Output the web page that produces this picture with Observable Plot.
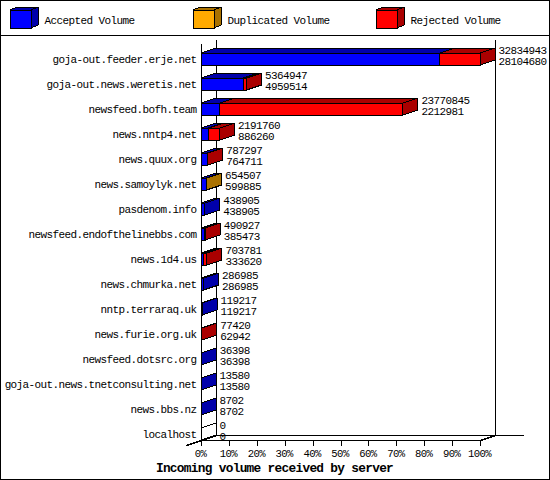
<!DOCTYPE html>
<html>
<head>
<meta charset="utf-8">
<script src="https://cdn.jsdelivr.net/npm/d3@7"></script>
<script src="https://cdn.jsdelivr.net/npm/@observablehq/plot@0.6"></script>
<style>
html,body{margin:0;padding:0;background:#fff}
#wrap{position:relative;width:550px;height:480px;overflow:hidden;background:#fff}
#wrap svg{display:block;position:absolute;left:0;background:transparent}
#wrap text{letter-spacing:-0.055em}
#frame{position:absolute;left:0;top:0;width:550px;height:480px;box-sizing:border-box;border:1px solid #000;pointer-events:none}
</style>
</head>
<body>
<div id="wrap"><div id="frame"></div></div>
<script>
const servers = ["goja-out.feeder.erje.net","goja-out.news.weretis.net","newsfeed.bofh.team","news.nntp4.net","news.quux.org","news.samoylyk.net","pasdenom.info","newsfeed.endofthelinebbs.com","news.1d4.us","news.chmurka.net","nntp.terraraq.uk","news.furie.org.uk","newsfeed.dotsrc.org","goja-out.news.tnetconsulting.net","news.bbs.nz","localhost"];
const totalVolume = [32834943,5364947,23770845,2191760,787297,654507,438905,490927,703781,286985,119217,77420,36398,13580,8702,0];
const acceptedVolume = [28104680,4959514,2212981,886260,764711,599885,438905,385473,333620,286985,119217,62942,36398,13580,8702,0];
const extraKind = ["rejected","rejected","rejected","rejected","rejected","duplicated","none","rejected","rejected","none","none","rejected","none","none","none","none"];
const xTicks = [0,10,20,30,40,50,60,70,80,90,100];
const legendNames = ["Accepted Volume","Duplicated Volume","Rejected Volume"];
const legendKinds = ["accepted","duplicated","rejected"];

const front = {accepted:"#0000ff",duplicated:"#ffaa00",rejected:"#ff0000"};
const dark  = {accepted:"#0000aa",duplicated:"#aa7200",rejected:"#aa0000"};
const MONO = "'Liberation Mono', monospace";
const TITLE = "'Liberation Mono', monospace";

// geometry of the chart, in scale units
const maxVol = d3.max(totalVolume);
const pxX = 100/279, pxY = 1/25;
const depthX = 15*pxX, depthY = 5*pxY, barH = 12*pxY;
const rowsEnd = 15 + barH;

const pct = v => v/maxVol*100;
const segs = [];
servers.forEach((name,i) => {
  const t = totalVolume[i], a = acceptedVolume[i];
  if (t === 0) { segs.push({i,x1:0,x2:0,kind:null,last:true,id:i+"z"}); return; }
  const extra = t > a;
  segs.push({i,x1:0,x2:pct(a),kind:"accepted",last:!extra,id:i+"a"});
  if (extra) segs.push({i,x1:pct(a),x2:pct(t),kind:extraKind[i],last:true,id:i+"b"});
});
const topPts = segs.flatMap(s => [
  {id:s.id,x1:s.x1,x2:s.x2,y:s.i,fill:s.kind?dark[s.kind]:"none"},
  {id:s.id,x1:s.x1+depthX,x2:s.x2+depthX,y:s.i-depthY,fill:s.kind?dark[s.kind]:"none"}
]);
const sidePts = segs.filter(s=>s.last).flatMap(s => [
  {id:s.id,x:s.x2,y1:s.i,y2:s.i+barH,fill:s.kind?dark[s.kind]:"none"},
  {id:s.id,x:s.x2+depthX,y1:s.i-depthY,y2:s.i+barH-depthY,fill:s.kind?dark[s.kind]:"none"}
]);
const frontSegs = segs.filter(s=>s.kind).map(s => ({...s,y1:s.i,y2:s.i+barH,fill:front[s.kind]}));

const wallTop = -0.52;
const crisp = {shapeRendering:"crispEdges"};
const labels = servers.map((name,i)=>({name,i}));
const upper = servers.map((_,i)=>({i,v:totalVolume[i]}));
const lower = servers.map((_,i)=>({i,v:acceptedVolume[i]}));

const chart = Plot.plot({
  width:550, height:444,
  marginLeft:0, marginRight:0, marginTop:0, marginBottom:0,
  style:{background:"transparent",fontFamily:MONO,fontSize:"11px",color:"#000",overflow:"visible"},
  x:{domain:[0,100],range:[201,480],axis:null},
  y:{domain:[0,rowsEnd],range:[17,404],axis:null},
  color:{type:"identity"},
  marks:[
    // walls of the 3D frame
    Plot.line([[depthX,wallTop],[depthX,rowsEnd-depthY]],{stroke:"#000",...crisp}),
    Plot.line([[100+depthX,wallTop],[100+depthX,rowsEnd-depthY]],{stroke:"#000",...crisp}),
    Plot.line([[0,wallTop+depthY-0.04],[0,rowsEnd]],{stroke:"#000",...crisp}),
    Plot.line([[depthX,rowsEnd-depthY],[100+depthX+10,rowsEnd-depthY]],{stroke:"#000",...crisp}),
    Plot.line([[0,rowsEnd],[100,rowsEnd],[100+depthX,rowsEnd-depthY]],{stroke:"#000",...crisp}),
    Plot.line([[-depthX,rowsEnd+depthY],[depthX,rowsEnd-depthY]],{stroke:"#000",...crisp}),
    // bars
    Plot.areaX(topPts,{x1:"x1",x2:"x2",y:"y",z:"id",fill:"fill",stroke:"#000",curve:"linear",...crisp}),
    Plot.areaY(sidePts,{x:"x",y1:"y1",y2:"y2",z:"id",fill:"fill",stroke:"#000",curve:"linear",...crisp}),
    Plot.rect(frontSegs,{x1:"x1",x2:"x2",y1:"y1",y2:"y2",fill:"fill",stroke:"#000",...crisp}),
    // x axis
    Plot.ruleX(xTicks,{y1:rowsEnd,y2:rowsEnd+6*pxY,stroke:"#000",...crisp}),
    Plot.text(xTicks,{x:d=>d,y:rowsEnd,dy:13,dx:-1,text:d=>d+"%",textAnchor:"middle",lineAnchor:"middle",fontSize:10.6,fill:"#000"}),
    // server names
    Plot.text(labels,{x:0,y:d=>d.i+barH/2,text:"name",textAnchor:"end",dx:-5,lineAnchor:"middle",fill:"#000"}),
    // value labels
    Plot.text(upper,{x:d=>pct(totalVolume[d.i])+depthX,y:"i",text:d=>String(d.v),textAnchor:"start",dx:3,dy:-3,lineAnchor:"middle",fill:"#000"}),
    Plot.text(lower,{x:d=>pct(totalVolume[d.i])+depthX,y:"i",text:d=>String(d.v),textAnchor:"start",dx:3,dy:8,lineAnchor:"middle",fill:"#000"}),
    // title
    Plot.text(["Incoming volume received by server"],{x:d=>(274-201)/2.79,y:rowsEnd,dy:27,text:d=>d,textAnchor:"middle",lineAnchor:"middle",fontFamily:TITLE,fontWeight:"bold",fontSize:12.8,fill:"#000"})
  ]
});
chart.style.top = "36px";

// legend strip
const swatchStart = [10,193,376];
const textStart = [44,227,410];
const swW = 21, swH = 18, swDx = 7, swDy = 3, swTop = 10;
const legendTop = legendKinds.flatMap((k,i)=>[
  {id:k,x1:swatchStart[i],x2:swatchStart[i]+swW,y:swTop,fill:dark[k]},
  {id:k,x1:swatchStart[i]+swDx,x2:swatchStart[i]+swW+swDx,y:swTop-swDy,fill:dark[k]}
]);
const legendSide = legendKinds.flatMap((k,i)=>[
  {id:k,x:swatchStart[i]+swW,y1:swTop,y2:swTop+swH,fill:dark[k]},
  {id:k,x:swatchStart[i]+swW+swDx,y1:swTop-swDy,y2:swTop+swH-swDy,fill:dark[k]}
]);
const legend = Plot.plot({
  width:550, height:36,
  marginLeft:0, marginRight:0, marginTop:0, marginBottom:0,
  style:{background:"transparent",fontFamily:MONO,fontSize:"11px",color:"#000"},
  x:{domain:[0,550],range:[0,550],axis:null},
  y:{domain:[0,36],range:[0,36],axis:null},
  color:{type:"identity"},
  marks:[
    Plot.areaX(legendTop,{x1:"x1",x2:"x2",y:"y",z:"id",fill:"fill",stroke:"#000",curve:"linear",...crisp}),
    Plot.areaY(legendSide,{x:"x",y1:"y1",y2:"y2",z:"id",fill:"fill",stroke:"#000",curve:"linear",...crisp}),
    Plot.rect(legendKinds.map((k,i)=>({i,k})),{x1:d=>swatchStart[d.i],x2:d=>swatchStart[d.i]+swW,y1:swTop,y2:swTop+swH,fill:d=>front[d.k],stroke:"#000",...crisp}),
    Plot.text(legendNames,{x:(d,i)=>textStart[i],y:20,text:d=>d,textAnchor:"start",lineAnchor:"middle",fill:"#000"}),
    Plot.ruleY([35],{stroke:"#000",...crisp})
  ]
});
legend.style.top = "0px";

const wrap = document.getElementById("wrap");
wrap.insertBefore(chart, wrap.firstChild);
wrap.insertBefore(legend, wrap.firstChild);
</script>
</body>
</html>
